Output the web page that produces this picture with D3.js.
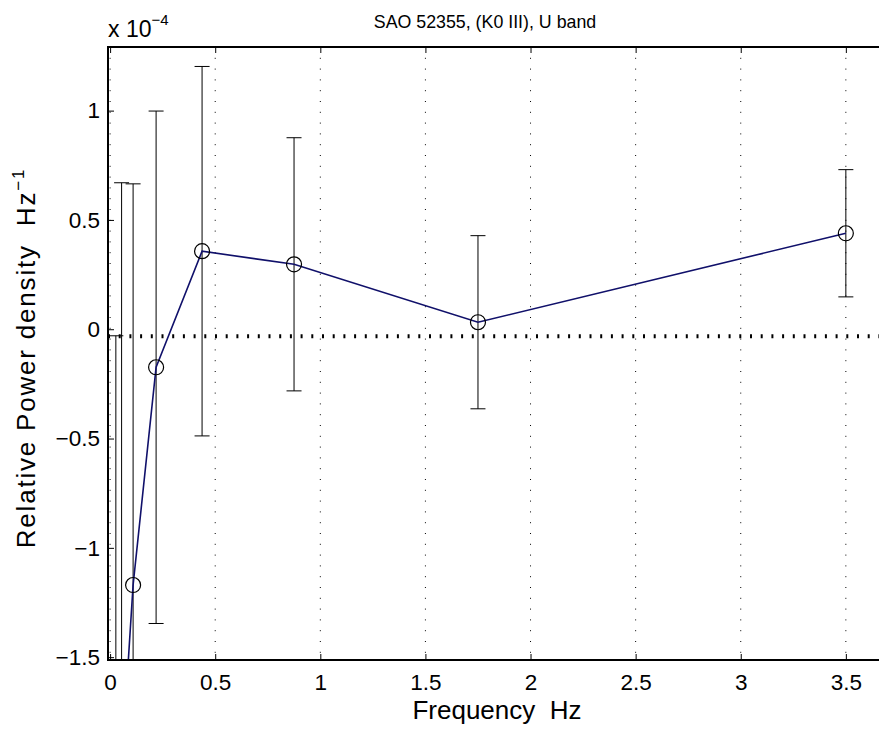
<!DOCTYPE html>
<html>
<head>
<meta charset="utf-8">
<script src="https://cdn.jsdelivr.net/npm/d3@7"></script>
<style>
  html, body { margin: 0; padding: 0; background: #fff; }
  svg { display: block; font-family: "Liberation Sans", Arial, Helvetica, sans-serif; }
</style>
</head>
<body>
<svg id="chart" width="879" height="731"></svg>
<script>
// ---- data (power in units of 1e-4) ----
const freqs  = [0.02734, 0.05469, 0.1094, 0.2188, 0.4375, 0.875, 1.75, 3.5];
const power  = [-3.0, -2.0, -1.17, -0.174, 0.357, 0.297, 0.032, 0.439];
const errs   = [2.97, 2.67, 1.835, 1.172, 0.845, 0.579, 0.396, 0.291];
const refLevel = [-0.032];
const xTicks = [0, 0.5, 1, 1.5, 2, 2.5, 3, 3.5];
const yTicks = [-1.5, -1, -0.5, 0, 0.5, 1];
const titleText = "SAO 52355, (K0 III), U band";
const xLabelText = "Frequency  Hz";
const yLabelText = "Relative Power density  Hz";

(function () {
const svg = d3.select("#chart");
const pL = 108, pT = 47, pB = 660, pR = 900.5;

const x = d3.scaleLinear().domain([-0.01, 3.76]).range([pL, pR]);
const y = d3.scaleLinear().domain([-1.513, 1.291]).range([pB, pT]);

svg.append("defs").append("clipPath").attr("id", "clip")
  .append("rect").attr("x", pL).attr("y", pT)
  .attr("width", pR - pL).attr("height", pB - pT);

// vertical dotted grid
const grid = svg.append("g");
grid.selectAll("line").data(xTicks).join("line")
  .attr("x1", d => x(d)).attr("x2", d => x(d))
  .attr("y1", pT).attr("y2", pB)
  .attr("stroke", "#000").attr("stroke-width", 1)
  .attr("stroke-dasharray", "1,9.8");

const plot = svg.append("g").attr("clip-path", "url(#clip)");

// thick dotted reference line
plot.selectAll("line.ref").data(refLevel).join("line").attr("class", "ref")
  .attr("x1", pL).attr("x2", pR)
  .attr("y1", d => y(d)).attr("y2", d => y(d))
  .attr("stroke", "#000").attr("stroke-width", 4)
  .attr("stroke-dasharray", "2,8.7");

// error bars
const idx = d3.range(freqs.length);
const eb = plot.append("g").attr("stroke", "#000").attr("stroke-width", 1).attr("fill", "none");
eb.selectAll("line.v").data(idx).join("line").attr("class", "v")
  .attr("x1", i => x(freqs[i])).attr("x2", i => x(freqs[i]))
  .attr("y1", i => y(power[i] + errs[i])).attr("y2", i => y(power[i] - errs[i]));
eb.selectAll("line.t").data(idx).join("line").attr("class", "t")
  .attr("x1", i => x(freqs[i]) - 7.5).attr("x2", i => x(freqs[i]) + 7.5)
  .attr("y1", i => y(power[i] + errs[i])).attr("y2", i => y(power[i] + errs[i]));
eb.selectAll("line.b").data(idx).join("line").attr("class", "b")
  .attr("x1", i => x(freqs[i]) - 7.5).attr("x2", i => x(freqs[i]) + 7.5)
  .attr("y1", i => y(power[i] - errs[i])).attr("y2", i => y(power[i] - errs[i]));

// data line
plot.append("path")
  .datum(idx)
  .attr("fill", "none").attr("stroke", "#10106a").attr("stroke-width", 1.6)
  .attr("d", d3.line().x(i => x(freqs[i])).y(i => y(power[i])));

// markers
plot.selectAll("circle").data(idx).join("circle")
  .attr("cx", i => x(freqs[i])).attr("cy", i => y(power[i])).attr("r", 7.5)
  .attr("fill", "none").attr("stroke", "#000").attr("stroke-width", 1.2);

// axes frame (left, top, bottom; right lies beyond the window)
const frame = svg.append("g").attr("stroke", "#000").attr("stroke-width", 2);
frame.append("line").attr("x1", pL).attr("x2", pL).attr("y1", pT - 1).attr("y2", pB + 1);
frame.append("line").attr("x1", pL - 1).attr("x2", 879).attr("y1", pT).attr("y2", pT);
frame.append("line").attr("x1", pL - 1).attr("x2", 879).attr("y1", pB).attr("y2", pB);

// x axis ticks and labels (bottom)
const xAxis = d3.axisBottom(x).tickValues(xTicks).tickSize(-6).tickPadding(14)
  .tickFormat(d3.format("~g"));
const gx = svg.append("g").attr("transform", `translate(0,${pB})`).call(xAxis);
gx.select(".domain").remove();
gx.selectAll(".tick line").attr("stroke", "#000").attr("stroke-width", 1);
gx.selectAll(".tick text").attr("font-size", 22.5).attr("fill", "#000")
  .attr("font-family", "Liberation Sans, Arial, sans-serif").attr("dy", "0.71em");

// top ticks
const gxt = svg.append("g").attr("transform", `translate(0,${pT})`)
  .call(d3.axisTop(x).tickValues(xTicks).tickSize(-6).tickFormat(""));
gxt.select(".domain").remove();
gxt.selectAll(".tick line").attr("stroke", "#000").attr("stroke-width", 1);

// y axis
const yAxis = d3.axisLeft(y).tickValues(yTicks).tickSize(-6).tickPadding(8)
  .tickFormat(d => d3.format("~g")(d).replace("-", "\u2212"));
const gy = svg.append("g").attr("transform", `translate(${pL},0)`).call(yAxis);
gy.select(".domain").remove();
gy.selectAll(".tick line").attr("stroke", "#000").attr("stroke-width", 1);
gy.selectAll(".tick text").attr("font-size", 22.5).attr("fill", "#000")
  .attr("font-family", "Liberation Sans, Arial, sans-serif");

// exponent label
const ex = svg.append("text").attr("x", 108).attr("y", 37).attr("font-size", 23).attr("fill", "#000");
ex.append("tspan").text("x 10");
ex.append("tspan").attr("dy", -12).attr("font-size", 15).text("\u22124");

// title
svg.append("text").attr("x", 485).attr("y", 28).attr("text-anchor", "middle")
  .attr("font-size", 17.8).attr("fill", "#000").text(titleText);

// x label
svg.append("text").attr("x", 497).attr("y", 719).attr("text-anchor", "middle")
  .attr("font-size", 26).attr("fill", "#000").style("white-space", "pre").text(xLabelText);

// y label
const yl = svg.append("text").attr("transform", "translate(35,358) rotate(-90)")
  .attr("text-anchor", "middle").attr("font-size", 26).attr("letter-spacing", 1.8)
  .attr("fill", "#000").style("white-space", "pre");
yl.append("tspan").text(yLabelText);
yl.append("tspan").attr("dy", -11).attr("font-size", 17).text("\u22121");
})();
</script>
</body>
</html>
